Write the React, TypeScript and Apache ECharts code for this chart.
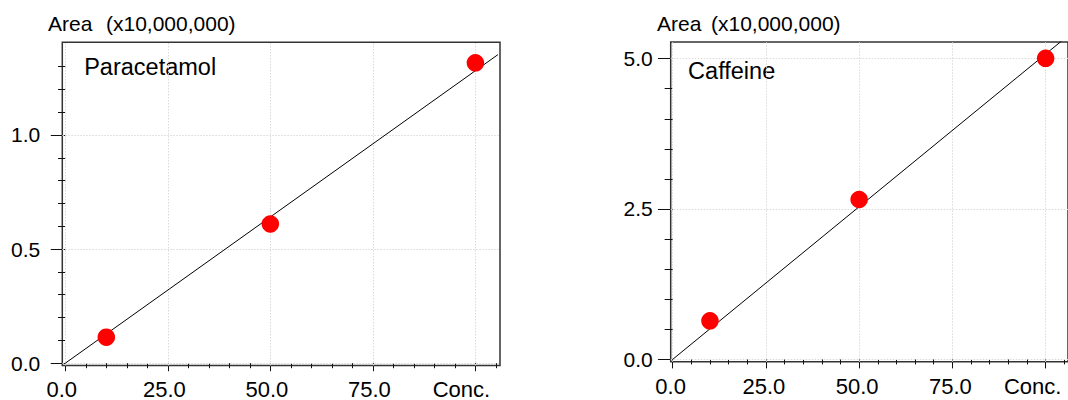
import React, { useEffect, useRef } from 'react';
import * as echarts from 'echarts';

const FONT = "'Liberation Sans', Arial, Helvetica, sans-serif";

// Calibration data (Area in units of 10,000,000)
const concentrations = [10, 50, 100];
const paracetamolArea = [0.114, 0.61, 1.316];
const caffeineArea = [0.641, 2.658, 5.005];

// Fitted calibration lines (end points)
const fitConc = [0, 105.5];
const paracetamolFit = [0, 1.352];
const caffeineFitConc = [0, 106];
const caffeineFit = [0, 5.38];

// Ticks
const xMajorTicks = [0, 25, 50, 75, 100];
const xMinorTicks = [5, 10, 15, 20, 30, 35, 40, 45, 55, 60, 65, 70, 80, 85, 90, 95, 105];
const paraYMajor = [0, 0.5, 1.0];
const paraYMinor = [0.1, 0.2, 0.3, 0.4, 0.6, 0.7, 0.8, 0.9, 1.1, 1.2, 1.3];
const cafYMajor = [0, 2.5, 5.0];
const cafYMinor = [0.5, 1.0, 1.5, 2.0, 3.0, 3.5, 4.0, 4.5];

const xLabelName = 'Conc.';
const yTitleA = 'Area';
const yTitleB = '(x10,000,000)';
const compoundNames = ['Paracetamol', 'Caffeine'];

const gridLineStyle = { color: '#dadada', type: [1.5, 1.5] as number[], width: 1 };
const tickColor = '#111';

function xAxesFor(gridIndex: number, min: number, max: number, majorLen: number, minorLen: number, margin: number, nPad: number, cPad: number, offset: number) {
  const rich = {
    n: { fontSize: 22, fontFamily: FONT, color: '#000', padding: [0, nPad, 0, 0] },
    c: { fontSize: 22, fontFamily: FONT, color: '#000', padding: [0, cPad, 0, 0] },
  };
  return [
    {
      gridIndex, type: 'value', min, max, position: 'bottom', offset,
      axisLine: { show: false },
      axisTick: { show: true, customValues: xMajorTicks, length: majorLen, lineStyle: { color: tickColor, width: 1 } },
      axisLabel: {
        show: true, customValues: xMajorTicks, margin, verticalAlign: 'middle',
        fontSize: 22, fontFamily: FONT, color: '#000',
        formatter: (v: number) => (v === 100 ? '{c|' + xLabelName + '}' : '{n|' + v.toFixed(1) + '}'),
        rich,
      },
      splitLine: { show: false },
    },
    {
      gridIndex, type: 'value', min, max, position: 'bottom', offset,
      axisLine: { show: false },
      axisTick: { show: true, customValues: xMinorTicks, length: minorLen, lineStyle: { color: tickColor, width: 1 } },
      axisLabel: { show: false },
      splitLine: { show: false },
    },
  ];
}

function yAxesFor(gridIndex: number, min: number, max: number, major: number[], minor: number[], majorLen: number, minorLen: number, margin: number, upShift: number) {
  return [
    {
      gridIndex, type: 'value', min, max, position: 'left',
      axisLine: { show: false },
      axisTick: { show: true, customValues: major, length: majorLen, lineStyle: { color: tickColor, width: 1 } },
      axisLabel: {
        show: true, customValues: major, margin, verticalAlign: 'middle',
        fontSize: 21, fontFamily: FONT, color: '#000',
        padding: [0, 0, upShift * 2, 0],
        formatter: (v: number) => v.toFixed(1),
      },
      splitLine: { show: false },
    },
    {
      gridIndex, type: 'value', min, max, position: 'left',
      axisLine: { show: false },
      axisTick: { show: true, customValues: minor, length: minorLen, lineStyle: { color: tickColor, width: 1 } },
      axisLabel: { show: false },
      splitLine: { show: false },
    },
  ];
}

function gridLinesSeries(xAxisIndex: number, yAxisIndex: number, yMajor: number[]) {
  return {
    type: 'line', xAxisIndex, yAxisIndex, data: [], z: 1, silent: true,
    markLine: {
      z: 1, silent: true, symbol: ['none', 'none'], label: { show: false }, animation: false,
      lineStyle: gridLineStyle, emphasis: { disabled: true },
      data: [
        ...xMajorTicks.map((v) => ({ xAxis: v })),
        ...yMajor.map((v) => ({ yAxis: v })),
      ],
    },
  };
}

function textEl(text: string, x: number, y: number, size: number) {
  return {
    type: 'text', x, y, silent: true,
    style: { text, fontSize: size, fontFamily: FONT, fill: '#000', align: 'left', verticalAlign: 'middle' },
  };
}

export default function App() {
  const ref = useRef<HTMLDivElement>(null);
  useEffect(() => {
    if (!ref.current) return;
    const chart = echarts.init(ref.current, undefined, { renderer: 'svg' });
    const para = concentrations.map((c, i) => [c, paracetamolArea[i]]);
    const caf = concentrations.map((c, i) => [c, caffeineArea[i]]);
    const paraLine = fitConc.map((c, i) => [c, paracetamolFit[i]]);
    const cafLine = caffeineFitConc.map((c, i) => [c, caffeineFit[i]]);

    chart.setOption({
      animation: false,
      backgroundColor: '#fff',
      grid: [
        { left: 62.3, top: 42.3, right: 568, bottom: 33.5, show: true, borderColor: '#333', borderWidth: 1.5, backgroundColor: 'transparent', containLabel: false },
        { left: 670.7, top: 42, right: -10, bottom: 38.2, show: true, borderColor: '#333', borderWidth: 1.5, backgroundColor: 'transparent', containLabel: false },
      ],
      xAxis: [
        ...xAxesFor(0, -0.73, 106, 8, 5, 21.5, 7, 28, 2),
        ...xAxesFor(1, -0.52, 106, 9, 5, 22, 4, 26, 2.5),
      ],
      yAxis: [
        ...yAxesFor(0, -0.01, 1.406, paraYMajor, paraYMinor, 14.5, 7.3, 22, 3),
        ...yAxesFor(1, -0.04, 5.276, cafYMajor, cafYMinor, 14.7, 8, 18, 2),
      ],
      series: [
        gridLinesSeries(0, 0, paraYMajor),
        gridLinesSeries(2, 2, cafYMajor),
        { type: 'line', xAxisIndex: 0, yAxisIndex: 0, data: paraLine, symbol: 'none', lineStyle: { color: '#000', width: 1 }, clip: true, z: 5 },
        { type: 'scatter', name: compoundNames[0], xAxisIndex: 0, yAxisIndex: 0, data: para, symbol: 'circle', symbolSize: 17.5, itemStyle: { color: '#ff0000', opacity: 1 }, z: 10 },
        { type: 'line', xAxisIndex: 2, yAxisIndex: 2, data: cafLine, symbol: 'none', lineStyle: { color: '#000', width: 1 }, clip: true, z: 5 },
        { type: 'scatter', name: compoundNames[1], xAxisIndex: 2, yAxisIndex: 2, data: caf, symbol: 'circle', symbolSize: 17.5, itemStyle: { color: '#ff0000', opacity: 1 }, z: 10 },
      ],
      graphic: [
        textEl(yTitleA, 48, 23.4, 21),
        textEl(yTitleB, 106, 23.4, 21),
        textEl(yTitleA, 657, 23.4, 21),
        textEl(yTitleB, 711, 23.4, 21),
        textEl(compoundNames[0], 84.2, 66.9, 23.5),
        textEl(compoundNames[1], 688.1, 70.9, 23.5),
      ],
    });
    return () => chart.dispose();
  }, []);
  return <div ref={ref} style={{ position: 'absolute', left: 0, top: 0, width: 1068, height: 400, overflow: 'hidden' }} />;
}
